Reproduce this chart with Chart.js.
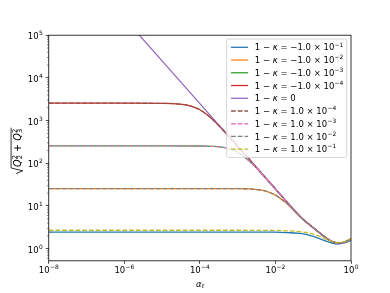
<!DOCTYPE html>
<html><head><meta charset="utf-8">
<script src="https://cdn.jsdelivr.net/npm/chart.js@4"></script>
<style>html,body{margin:0;padding:0;background:#fff}</style>
</head><body>
<canvas id="c" width="390" height="293"></canvas>
<script>
// ---- data ----
const seriesLabels = [
  '1 − κ = −1.0 × 10^−1', '1 − κ = −1.0 × 10^−2', '1 − κ = −1.0 × 10^−3', '1 − κ = −1.0 × 10^−4',
  '1 − κ = 0',
  '1 − κ = 1.0 × 10^−4', '1 − κ = 1.0 × 10^−3', '1 − κ = 1.0 × 10^−2', '1 − κ = 1.0 × 10^−1'
];
const seriesColors = ['#1f77b4','#ff7f0e','#2ca02c','#d62728','#9467bd','#8c564b','#e377c2','#7f7f7f','#bcbd22'];
const seriesDashed = [false,false,false,false,false,true,true,true,true];

// |1-κ| = 1e-1
const alpha1 = [1e-8, 1e-3, 1e-2, 2e-2, 5e-2, 0.1, 0.2, 0.3, 0.4, 0.5, 0.7, 1];
const valueNeg1 = [2.45, 2.45, 2.43, 2.38, 2.25, 1.95, 1.55, 1.37, 1.3, 1.3, 1.38, 1.57];
const valuePos1 = [2.7, 2.7, 2.68, 2.62, 2.48, 2.2, 1.75, 1.5, 1.4, 1.4, 1.48, 1.7];
// |1-κ| = 1e-2
const alpha2 = [1e-8, 1e-4, 1e-3, 2e-3, 5e-3, 1e-2, 2e-2, 5e-2, 0.1, 0.2, 0.3, 0.4, 0.5, 0.7, 1];
const value2 = [25.5, 25.5, 25.4, 25, 22.8, 18, 11.4, 5.1, 3.1, 1.9, 1.5, 1.38, 1.37, 1.45, 1.7];
// |1-κ| = 1e-3
const alpha3 = [1e-8, 1e-5, 1e-4, 2e-4, 5e-4, 1e-3, 2e-3, 5e-3, 1e-2, 3e-2, 5e-2, 0.1, 0.2, 0.3, 0.4, 0.5, 0.7, 1];
const value3 = [255, 255, 254, 250, 228, 180, 114, 50, 25.2, 8.4, 5.2, 3.1, 1.9, 1.5, 1.38, 1.37, 1.45, 1.7];
// |1-κ| = 1e-4
const alpha4 = [1e-8, 1e-6, 1e-5, 2e-5, 5e-5, 1e-4, 2e-4, 5e-4, 1e-3, 1e-2, 3e-2, 5e-2, 0.1, 0.2, 0.3, 0.4, 0.5, 0.7, 1];
const value4 = [2550, 2550, 2540, 2500, 2280, 1800, 1140, 500, 252, 25, 8.4, 5.2, 3.1, 1.9, 1.5, 1.38, 1.37, 1.45, 1.7];
// 1-κ = 0
const alpha0 = [1e-6, 1e-5, 1e-4, 1e-3, 1e-2, 3e-2, 5e-2, 0.1, 0.2, 0.3, 0.4, 0.5, 0.7, 1];
const value0 = [250000, 25000, 2500, 250, 25, 8.4, 5.2, 3.1, 1.9, 1.5, 1.38, 1.37, 1.45, 1.7];

const seriesAlpha = [alpha1, alpha2, alpha3, alpha4, alpha0, alpha4, alpha3, alpha2, alpha1];
const seriesValue = [valueNeg1, value2, value3, value4, value0, value4, value3, value2, valuePos1];

const xTickValues = [1e-8, 1e-6, 1e-4, 1e-2, 1];
const xTickLabels = ['10^−8', '10^−6', '10^−4', '10^−2', '10^0'];
const yTickValues = [1, 10, 100, 1000, 10000, 100000];
const yTickLabels = ['10^0', '10^1', '10^2', '10^3', '10^4', '10^5'];

// ---- chart ----
const FONT = 'DejaVu Sans';
const FS = 8.5;
const LW = 1.27;

const datasets = seriesLabels.map((lab, i) => ({
  label: lab,
  data: seriesAlpha[i].map((a, j) => ({x: a, y: seriesValue[i][j]})),
  borderColor: seriesColors[i],
  backgroundColor: seriesColors[i],
  borderWidth: LW,
  borderDash: seriesDashed[i] ? [4.7, 2.0] : [],
  pointRadius: 0,
  fill: false,
  cubicInterpolationMode: 'monotone',
  order: 20 - i
}));

function minorTicks() {
  const out = [];
  for (let e = -1; e <= 4; e++) for (let m = 2; m <= 9; m++) {
    const v = m * Math.pow(10, e);
    if (v > 0.52 && v < 1e5) out.push(v);
  }
  return out;
}

const fN = (s) => s + 'px "' + FONT + '"';
const fI = (s) => 'italic ' + s + 'px "' + FONT + '"';

// draws text with italic κ and a trailing ^superscript; returns width (draw=false to measure)
function mathText(ctx, str, x, y, size, draw) {
  const [main, sup] = str.split('^');
  let cx = x;
  const parts = main.split('κ');
  parts.forEach((p, k) => {
    ctx.font = fN(size); if (draw) ctx.fillText(p, cx, y); cx += ctx.measureText(p).width;
    if (k < parts.length - 1) { ctx.font = fI(size); if (draw) ctx.fillText('κ', cx, y); cx += ctx.measureText('κ').width; }
  });
  if (sup !== undefined) {
    const ss = size * 0.7;
    cx += 0.3;
    ctx.font = fN(ss); if (draw) ctx.fillText(sup, cx, y - size * 0.45); cx += ctx.measureText(sup).width;
  }
  return cx - x;
}

const decor = {
  id: 'decor',
  afterDatasetsDraw(chart) {
    const {ctx, chartArea: a} = chart;
    const ys = chart.scales.y, xs = chart.scales.x;
    ctx.save();
    ctx.strokeStyle = '#000'; ctx.lineWidth = 0.5;
    for (const v of minorTicks()) {
      const py = ys.getPixelForValue(v);
      ctx.beginPath(); ctx.moveTo(a.left, py); ctx.lineTo(a.left - 1.7, py); ctx.stroke();
    }
    ctx.lineWidth = 0.8; ctx.strokeStyle = '#000';
    ctx.strokeRect(a.left, a.top, a.right - a.left, a.bottom - a.top);
    // tick labels
    ctx.fillStyle = '#000'; ctx.textBaseline = 'alphabetic';
    xTickValues.forEach((v, i) => {
      const px = xs.getPixelForValue(v);
      const w = mathText(ctx, xTickLabels[i], 0, 0, FS, false);
      mathText(ctx, xTickLabels[i], px - w / 2, a.bottom + 12.5, FS, true);
    });
    yTickValues.forEach((v, i) => {
      const py = ys.getPixelForValue(v);
      const w = mathText(ctx, yTickLabels[i], 0, 0, FS, false);
      mathText(ctx, yTickLabels[i], a.left - 6 - w, py + 4, FS, true);
    });
    ctx.restore();
  },
  afterDraw(chart) {
    const {ctx, chartArea: a} = chart;
    ctx.save();
    ctx.fillStyle = '#000';
    ctx.textBaseline = 'alphabetic';
    // legend
    let maxW = 0; seriesLabels.forEach(s => { maxW = Math.max(maxW, mathText(ctx, s, 0, 0, FS, false)); });
    const pad = 3.4, hl = 17, htp = 6.8;
    const right = 346.75, bw = pad + hl + htp + maxW + pad + 1, left = right - bw;
    const top = 39, first = 47.3, step = 12.74;
    const bottom = first + 8 * step + 8.3;
    ctx.beginPath();
    if (ctx.roundRect) ctx.roundRect(left, top, bw, bottom - top, 2); else ctx.rect(left, top, bw, bottom - top);
    ctx.fillStyle = 'rgba(255,255,255,0.8)'; ctx.fill();
    ctx.strokeStyle = '#cccccc'; ctx.lineWidth = 0.8; ctx.stroke();
    seriesLabels.forEach((s, i) => {
      const cy = first + i * step;
      ctx.beginPath();
      ctx.setLineDash(seriesDashed[i] ? [4.7, 2.0] : []);
      ctx.strokeStyle = seriesColors[i]; ctx.lineWidth = LW;
      ctx.moveTo(left + pad + 1, cy); ctx.lineTo(left + pad + 1 + hl, cy); ctx.stroke();
      ctx.setLineDash([]);
      ctx.fillStyle = '#000';
      mathText(ctx, s, left + pad + 1 + hl + htp, cy + 3.1, FS, true);
    });
    // x title: alpha_t
    ctx.font = fI(FS);
    const wa = ctx.measureText('α').width;
    ctx.font = fI(FS * 0.7);
    const wt = ctx.measureText('t').width;
    const cx = (a.left + a.right) / 2, bx = cx - (wa + wt) / 2, by = 286.5;
    ctx.font = fI(FS); ctx.fillText('α', bx, by);
    ctx.font = fI(FS * 0.7); ctx.fillText('t', bx + wa + 0.3, by + 1.8);
    // y title: sqrt(Q2^2 + Q3^2)
    ctx.translate(20.5, (a.top + a.bottom) / 2 + 3);
    ctx.rotate(-Math.PI / 2);
    const em = 9.6;
    const sm = em * 0.7;
    ctx.font = fI(em); const wQ = ctx.measureText('Q').width;
    ctx.font = fN(sm); const w2 = ctx.measureText('2').width;
    ctx.font = fN(em); const wPlus = ctx.measureText(' + ').width;
    const rad = 0.75 * em;
    const total = rad + wQ + w2 + wPlus + wQ + w2 + 1.6;
    let x = -total / 2;
    const r0 = x;
    ctx.strokeStyle = '#000'; ctx.lineWidth = 0.8; ctx.setLineDash([]);
    ctx.beginPath();
    ctx.moveTo(r0, -0.33 * em); ctx.lineTo(r0 + 0.12 * em, -0.4 * em);
    ctx.lineTo(r0 + 0.36 * em, 0.24 * em); ctx.lineTo(r0 + 0.66 * em, -0.98 * em);
    ctx.lineTo(r0 + total, -0.98 * em); ctx.stroke();
    x += rad;
    const drawQ = (sub) => {
      ctx.font = fI(em); ctx.fillText('Q', x, 0); x += wQ + 0.3;
      ctx.font = fN(sm); ctx.fillText(sub, x, 0.18 * em); ctx.fillText('2', x, -0.4 * em); x += w2;
    };
    drawQ('2');
    ctx.font = fN(em); ctx.fillText(' + ', x, 0); x += wPlus;
    drawQ('3');
    ctx.restore();
  }
};

new Chart(document.getElementById('c'), {
  type: 'line',
  data: {datasets},
  options: {
    responsive: false,
    animation: false,
    devicePixelRatio: 1,
    layout: {padding: {top: 35.2, right: 39, left: 0, bottom: 0}},
    plugins: {legend: {display: false}, tooltip: {enabled: false}},
    scales: {
      x: {
        type: 'logarithmic', min: 1e-8, max: 1,
        afterBuildTicks: s => { s.ticks = xTickValues.map(v => ({value: v})); },
        afterFit: s => { s.height = 32.2; },
        ticks: {display: false, autoSkip: false, maxRotation: 0, minRotation: 0},
        grid: {display: true, drawOnChartArea: false, drawTicks: true, tickLength: 3, tickWidth: 0.7, tickColor: '#000'},
        border: {display: false}
      },
      y: {
        type: 'logarithmic', min: 0.52, max: 1e5,
        afterBuildTicks: s => { s.ticks = yTickValues.map(v => ({value: v})); },
        afterFit: s => { s.width = 48.75; },
        ticks: {display: false, autoSkip: false},
        grid: {display: true, drawOnChartArea: false, drawTicks: true, tickLength: 3, tickWidth: 0.7, tickColor: '#000'},
        border: {display: false}
      }
    }
  },
  plugins: [decor]
});
</script>
</body></html>
